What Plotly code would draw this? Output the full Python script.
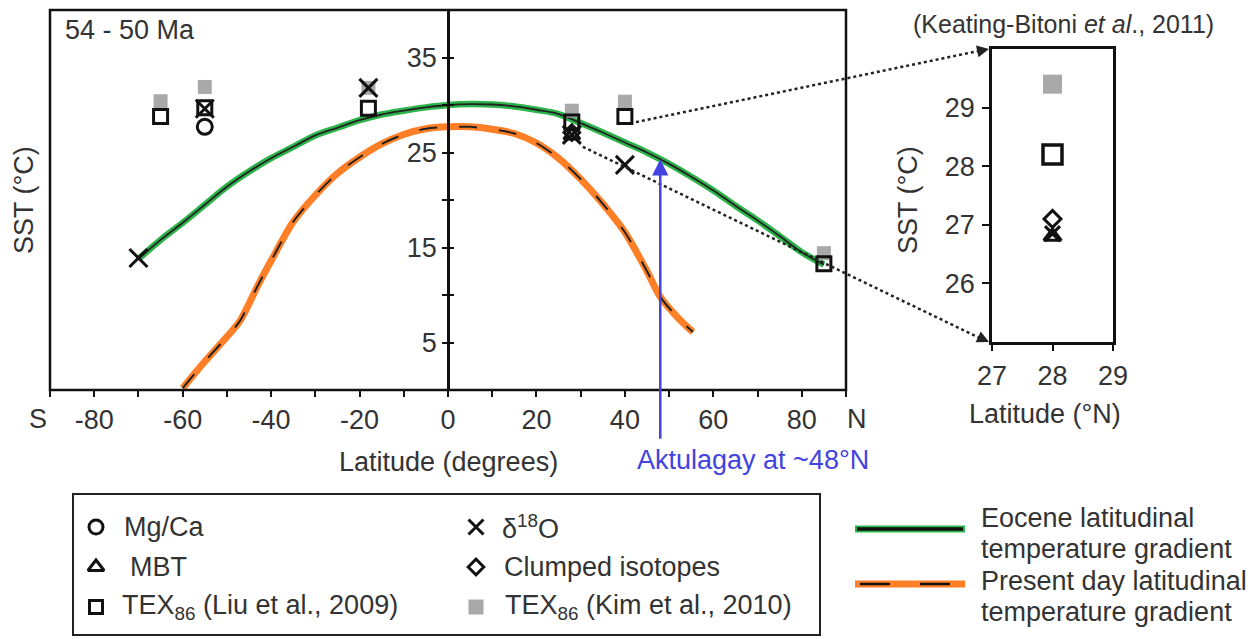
import plotly.graph_objects as go

W, H = 1257, 639
OX, OY = 8, 8   # page body margin offset

# ---------------- data ----------------
eocene_lat = [-70, -65, -60, -55, -50, -45, -40, -35, -30, -25, -20, -15, -10, -5, 0,
              5, 10, 15, 20, 25, 30, 35, 40, 45, 50, 55, 60, 65, 70, 75, 80, 85]
eocene_sst = [13.8, 15.8, 17.6, 19.5, 21.4, 23.0, 24.4, 25.6, 26.8, 27.6, 28.4, 29.0, 29.4, 29.75, 30.0,
              30.1, 30.05, 29.85, 29.5, 29.05, 28.1, 27.1, 26.05, 25.0, 23.8, 22.45, 21.0, 19.4, 17.85, 16.2, 14.5, 13.2]

present_lat = [-60, -55, -50, -47, -43, -40, -35, -30, -25, -20, -15, -10, -5, 0,
               5, 10, 15, 20, 25, 30, 35, 40, 45, 48, 52, 55.4]
present_sst = [0.2, 3.0, 5.6, 7.3, 11.0, 13.6, 17.7, 20.5, 22.8, 24.5, 25.9, 26.9, 27.5, 27.7,
               27.7, 27.45, 27.0, 26.0, 24.4, 22.2, 19.6, 16.6, 12.5, 9.8, 7.6, 6.1]

mgca_lat = [-55]
mgca_sst = [27.7]
mbt_lat = [28]
mbt_sst = [26.8]
d18o_lat = [-70, -55, -18, 28, 40]
d18o_sst = [13.9, 29.6, 31.8, 26.85, 23.7]
clumped_lat = [28]
clumped_sst = [27.1]
texliu_lat = [-65, -55, -18, 28, 40, 85]
texliu_sst = [28.8, 29.7, 29.65, 28.2, 28.8, 13.3]
texkim_lat = [-65, -55, -18, 28, 40, 85]
texkim_sst = [30.4, 31.9, 31.8, 29.4, 30.35, 14.4]

inset_site = 28
aktulagay_lat = 48

xtick_vals = list(range(-90, 91, 10))
xtick_text = ["" if (v in (-90, 90) or v % 20) else str(v) for v in xtick_vals]
ytick_vals = list(range(5, 36, 5))
ytick_text = [str(v) if v % 10 == 5 else "" for v in ytick_vals]
inset_xticks = [27, 28, 29]
inset_yticks = [26, 27, 28, 29]

# ---------------- style ----------------
FONT = "Liberation Sans, Arial, sans-serif"
TXT = "#333333"
FS = 27
GREEN = "#2cb34a"
ORANGE = "#ff7f27"
GREY = "#a9a9a9"
BLUE = "#4343e0"


def px(x):
    return (x - OX) / W


def py(y):
    return 1 - (y - OY) / H


MX = [px(50), px(846)]
MY = [py(390), py(10)]
IX = [px(992), px(1113)]
IY = [py(342), py(49)]
XR = [-90, 90]
YR = [0, 40]
IXR = [27, 29]
IYR = [25, 30]


def main_paper(lat, t):
    return (MX[0] + (lat - XR[0]) / (XR[1] - XR[0]) * (MX[1] - MX[0]),
            MY[0] + (t - YR[0]) / (YR[1] - YR[0]) * (MY[1] - MY[0]))


def inset_paper(lat, t):
    return (IX[0] + (lat - IXR[0]) / (IXR[1] - IXR[0]) * (IX[1] - IX[0]),
            IY[0] + (t - IYR[0]) / (IYR[1] - IYR[0]) * (IY[1] - IY[0]))


def pick(lats, vals, site):
    return [v for l, v in zip(lats, vals) if l == site]


fig = go.Figure()

# ---------------- curves ----------------
fig.add_trace(go.Scatter(x=eocene_lat, y=eocene_sst, mode="lines",
                         line=dict(color=GREEN, width=6.5, shape="spline", smoothing=1.0),
                         hoverinfo="skip", showlegend=False))
fig.add_trace(go.Scatter(x=eocene_lat, y=eocene_sst, mode="lines",
                         line=dict(color="#222", width=1.8, shape="spline", smoothing=1.0),
                         hoverinfo="skip", showlegend=False))
fig.add_trace(go.Scatter(x=present_lat, y=present_sst, mode="lines",
                         line=dict(color=ORANGE, width=7, shape="spline", smoothing=0.8),
                         hoverinfo="skip", showlegend=False))
fig.add_trace(go.Scatter(x=present_lat, y=present_sst, mode="lines",
                         line=dict(color="#222", width=2, shape="spline", smoothing=0.8, dash="18px,22px"),
                         hoverinfo="skip", showlegend=False))

# ---------------- proxy markers (main) ----------------
def markers(lats, vals, symbol, size, color="#111", lw=3, xa="x", ya="y", filled=False):
    if filled:
        m = dict(symbol=symbol, size=size, color=color, line=dict(width=0))
    else:
        m = dict(symbol=symbol, size=size, color=color, line=dict(color=color, width=lw))
    fig.add_trace(go.Scatter(x=lats, y=vals, mode="markers", marker=m, xaxis=xa, yaxis=ya,
                             showlegend=False, cliponaxis=False))


markers(texkim_lat, texkim_sst, "square", 14, GREY, filled=True)
markers(texliu_lat, texliu_sst, "square-open", 14)
markers(mgca_lat, mgca_sst, "circle-open", 15)
markers(mbt_lat, mbt_sst, "triangle-up-open", 14)
markers(clumped_lat, clumped_sst, "diamond-open", 12)
markers(d18o_lat, d18o_sst, "x-thin-open", 18)

# ---------------- inset markers ----------------
markers(pick(texkim_lat, texkim_lat, inset_site), pick(texkim_lat, texkim_sst, inset_site), "square", 19, GREY,
        xa="x2", ya="y2", filled=True)
markers(pick(texliu_lat, texliu_lat, inset_site), pick(texliu_lat, texliu_sst, inset_site), "square-open", 19,
        lw=3.5, xa="x2", ya="y2")
markers(pick(clumped_lat, clumped_lat, inset_site), pick(clumped_lat, clumped_sst, inset_site), "diamond-open", 13,
        xa="x2", ya="y2")
markers(pick(mbt_lat, mbt_lat, inset_site), pick(mbt_lat, mbt_sst, inset_site), "triangle-up-open", 15,
        xa="x2", ya="y2")
markers(pick(d18o_lat, d18o_lat, inset_site), pick(d18o_lat, d18o_sst, inset_site), "x-thin-open", 15,
        xa="x2", ya="y2")

# dummy for crossing-tick overlay axis
fig.add_trace(go.Scatter(x=[None], y=[None], yaxis="y3", showlegend=False, hoverinfo="skip"))

# ---------------- legend swatches (pixel overlay axes) ----------------
leg_rows = [527, 567, 607]
leg_c1, leg_c2 = 96, 476
sw = [
    (leg_c1, leg_rows[0], "circle-open", 14, "#111", False),
    (leg_c1, leg_rows[1], "triangle-up-open", 14, "#111", False),
    (leg_c1, leg_rows[2], "square-open", 13, "#111", False),
    (leg_c2, leg_rows[0], "x-thin-open", 15, "#111", False),
    (leg_c2, leg_rows[1], "diamond-open", 12, "#111", False),
    (leg_c2, leg_rows[2], "square", 15, GREY, True),
]
for (sx, sy, sym, sz, col, filled) in sw:
    markers([sx], [sy], sym, sz, col, xa="x3", ya="y4", filled=filled)

# ---------------- layout ----------------
axis_font = dict(family=FONT, size=FS, color=TXT)
fig.update_layout(
    width=W, height=H, margin=dict(l=0, r=0, t=0, b=0, pad=0, autoexpand=False),
    showlegend=False,
    paper_bgcolor="white", plot_bgcolor="rgba(0,0,0,0)",
    font=dict(family=FONT, size=FS, color=TXT),
    xaxis=dict(domain=MX, range=XR, anchor="y", showgrid=False, zeroline=False, showline=False, automargin=False,
               tickmode="array", tickvals=xtick_vals, ticktext=xtick_text, ticks="outside",
               ticklen=6, tickwidth=2, tickcolor="#111", tickfont=axis_font, ticklabelstandoff=0),
    yaxis=dict(domain=MY, range=YR, anchor="free", position=(MX[0] + MX[1]) / 2, side="left", automargin=False,
               showgrid=False, zeroline=False, showline=True, linecolor="#111", linewidth=2.5,
               tickmode="array", tickvals=ytick_vals, ticktext=ytick_text, ticks="outside",
               ticklen=5, tickwidth=2, tickcolor="#111", tickfont=axis_font, ticklabelstandoff=0),
    yaxis3=dict(domain=MY, range=YR, anchor="free", overlaying="y", position=(MX[0] + MX[1]) / 2, side="right",
                automargin=False,
                showgrid=False, zeroline=False, showline=False, tickmode="array", tickvals=ytick_vals,
                ticks="outside", ticklen=5, tickwidth=2, tickcolor="#111", showticklabels=False),
    xaxis2=dict(domain=IX, range=IXR, anchor="y2", showgrid=False, zeroline=False, showline=True, mirror=True,
                automargin=False,
                linecolor="#111", linewidth=2.5, tickmode="array", tickvals=inset_xticks, ticks="outside",
                ticklen=6, tickwidth=2, tickcolor="#111", tickfont=axis_font, ticklabelstandoff=2),
    yaxis2=dict(domain=IY, range=IYR, anchor="x2", showgrid=False, zeroline=False, showline=True, mirror=True,
                automargin=False,
                linecolor="#111", linewidth=2.5, tickmode="array", tickvals=inset_yticks, ticks="outside",
                ticklen=7, tickwidth=2, tickcolor="#111", tickfont=axis_font, ticklabelstandoff=2),
    xaxis3=dict(domain=[0, 1], range=[OX, W + OX], anchor="y4", visible=False, fixedrange=True, automargin=False),
    yaxis4=dict(domain=[0, 1], range=[H + OY, OY], anchor="x3", visible=False, fixedrange=True, automargin=False),
)

shapes = []
# main frame
shapes.append(dict(type="rect", xref="x domain", yref="y domain", x0=0, x1=1, y0=0, y1=1,
                   line=dict(color="#111", width=2.5)))
# dotted connector lines
up_start = main_paper(42.5, 28.2)
up_end = inset_paper(IXR[0], IYR[1])
lo_start = main_paper(30.5, 25.6)
lo_end = inset_paper(IXR[0], IYR[0])
for s, e in [(up_start, up_end), (lo_start, lo_end)]:
    shapes.append(dict(type="line", xref="paper", yref="paper", x0=s[0], y0=s[1], x1=e[0] - 4 / W, y1=e[1],
                       line=dict(color="#222", width=2.5, dash="dot")))
# legend box
shapes.append(dict(type="rect", xref="paper", yref="paper", x0=px(73), x1=px(820), y0=py(635), y1=py(494),
                   line=dict(color="#222", width=2)))
# right legend lines
shapes.append(dict(type="line", xref="paper", yref="paper", x0=px(855), x1=px(965), y0=py(529), y1=py(529),
                   line=dict(color=GREEN, width=7)))
shapes.append(dict(type="line", xref="paper", yref="paper", x0=px(857), x1=px(963), y0=py(529), y1=py(529),
                   line=dict(color="#111", width=3.5)))
shapes.append(dict(type="line", xref="paper", yref="paper", x0=px(855), x1=px(965), y0=py(584), y1=py(584),
                   line=dict(color=ORANGE, width=7)))
shapes.append(dict(type="line", xref="paper", yref="paper", x0=px(860), x1=px(952), y0=py(584), y1=py(584),
                   line=dict(color="#111", width=2.5, dash="30px,30px")))
fig.update_layout(shapes=shapes)

ann = []


def text(x, y, s, xanchor="center", size=FS, color=TXT, textangle=0):
    ann.append(dict(x=px(x), y=py(y), xref="paper", yref="paper", text=s, showarrow=False, xanchor=xanchor,
                    yanchor="middle", font=dict(family=FONT, size=size, color=color), textangle=textangle))


# main titles
text(63, 30, "54 - 50 Ma", xanchor="left")
text(24, 200, "SST (°C)", textangle=-90)
text(448, 462, "Latitude (degrees)")
text(38, 419, "S")
text(857, 419, "N")
# Aktulagay
text(635, 460, "Aktulagay at ~48°N", xanchor="left", color=BLUE)
ann.append(dict(x=aktulagay_lat, y=24.3, xref="x", yref="y", ax=aktulagay_lat, ay=-5.3, axref="x", ayref="y",
                showarrow=True, arrowhead=2, arrowsize=1.3, arrowwidth=2.5, arrowcolor=BLUE, text=""))
# arrowheads of dotted connectors
for s, e in [(up_start, up_end), (lo_start, lo_end)]:
    dx = (e[0] - s[0]) * W
    dy = -(e[1] - s[1]) * H
    n = (dx ** 2 + dy ** 2) ** 0.5
    ann.append(dict(x=e[0] - 3 / W, y=e[1], xref="paper", yref="paper", ax=-dx / n * 12, ay=-dy / n * 12,
                    showarrow=True, arrowhead=2, arrowsize=1.2, arrowwidth=2, arrowcolor="#222", text=""))
# inset titles
text(1063, 24, "(Keating-Bitoni <i>et al</i>., 2011)", size=25)
text(908, 200, "SST (°C)", textangle=-90)
text(1045, 414, "Latitude (°N)")
# legend texts
text(122, leg_rows[0], "Mg/Ca", xanchor="left")
text(128, leg_rows[1], "MBT", xanchor="left")
text(120, leg_rows[2], "TEX<sub>86</sub> (Liu et al., 2009)", xanchor="left")
text(500, leg_rows[0], "δ<sup>18</sup>O", xanchor="left")
text(502, leg_rows[1], "Clumped isotopes", xanchor="left")
text(503, leg_rows[2], "TEX<sub>86</sub> (Kim et al., 2010)", xanchor="left")
text(979, 518, "Eocene latitudinal", xanchor="left")
text(979, 549, "temperature gradient", xanchor="left")
text(979, 581, "Present day latitudinal", xanchor="left")
text(979, 612, "temperature gradient", xanchor="left")
fig.update_layout(annotations=ann)

fig.write_html("out.html")
